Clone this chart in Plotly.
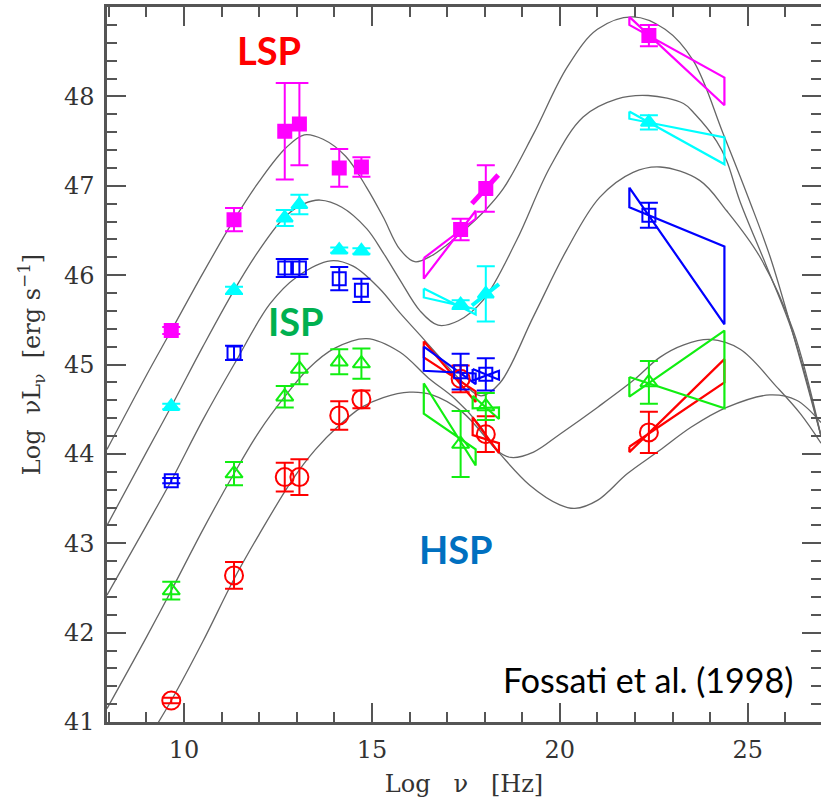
import plotly.graph_objects as go

# ---------------- data ----------------
log_nu = [9.66, 11.33, 12.68, 13.07, 14.13, 14.72, 17.36, 18.03, 22.37]

lsp_y = [45.38, 46.62, 47.61, 47.69, 47.20, 47.21, 46.51, 46.97, 48.68]
lsp_err = [0.04, 0.13, 0.54, 0.46, 0.21, 0.11, 0.12, 0.26, 0.12]
bin2_y = [44.53, 45.83, 46.64, 46.79, 46.28, 46.27, 45.67, 45.79, 47.71]
bin2_err = [0.03, 0.04, 0.09, 0.11, 0.03, 0.03, 0.05, 0.31, 0.08]
bin3_y = [43.70, 45.13, 46.08, 46.08, 45.96, 45.83, 44.92, 44.89, 46.67]
bin3_err = [0.03, 0.08, 0.10, 0.10, 0.13, 0.13, 0.20, 0.18, 0.14]
isp_y = [42.47, 43.78, 44.64, 44.95, 45.03, 45.01, 44.11, 44.53, 44.80]
isp_err = [0.10, 0.13, 0.12, 0.17, 0.14, 0.17, 0.37, 0.15, 0.24]
hsp_y = [41.24, 42.64, 43.74, 43.74, 44.43, 44.61, 44.84, 44.22, 44.24]
hsp_err = [0.03, 0.15, 0.16, 0.20, 0.16, 0.10, 0.15, 0.20, 0.23]

# bowties: x ends, left (top, bottom), right (top, bottom)
bow_x = [[16.38, 17.76], [17.68, 18.38], [21.85, 24.38]]
lsp_bow_left = [[46.19, 45.96], None, [48.89, 48.80]]
lsp_bow_right = [[46.72, 46.63], None, [48.21, 47.90]]
bin2_bow_left = [[45.85, 45.75], None, [47.83, 47.75]]
bin2_bow_right = [[45.62, 45.56], None, [47.54, 47.24]]
bin3_bow_left = [[45.20, 44.93], [44.95, 44.82], [46.98, 46.76]]
bin3_bow_right = [[44.90, 44.78], [44.93, 44.83], [46.32, 45.45]]
isp_bow_left = [[44.79, 44.45], [44.65, 44.51], [44.86, 44.64]]
isp_bow_right = [[44.05, 43.87], [44.52, 44.39], [45.38, 44.51]]
hsp_bow_left = [[45.26, 45.08], [44.41, 44.21], [44.08, 44.02]]
hsp_bow_right = [[44.70, 44.58], [44.12, 44.01], [45.06, 44.80]]
# narrow hard X-ray slopes
lsp_hx_x = [17.66, 18.36]
lsp_hx_y = [46.80, 47.12]
bin2_hx_x = [17.66, 18.38]
bin2_hx_y = [45.66, 45.90]

# model curves
c1_x = [7.95, 9.0, 9.66, 10.5, 11.33, 12.0, 12.7, 13.2, 13.7, 14.3, 14.86, 15.3, 15.74, 16.14, 16.6, 17.0, 17.5, 18.0, 18.5, 19.3, 20.2, 21.0, 21.95, 22.8, 23.55, 24.35, 25.05, 25.6, 26.2, 26.95]
c1_y = [44.05, 44.88, 45.38, 46.02, 46.62, 47.05, 47.42, 47.57, 47.52, 47.33, 46.98, 46.65, 46.29, 46.15, 46.22, 46.34, 46.52, 46.72, 46.97, 47.58, 48.33, 48.75, 48.89, 48.75, 48.40, 47.58, 46.83, 46.2, 45.35, 44.2]
c2_x = [7.95, 9.0, 9.66, 10.5, 11.33, 12.0, 12.68, 13.2, 13.62, 14.2, 14.86, 15.3, 15.74, 16.28, 16.76, 17.3, 17.96, 18.85, 19.74, 20.62, 21.51, 22.35, 23.29, 23.6, 24.17, 24.44, 24.79, 25.5, 26.2, 26.95]
c2_y = [43.2, 44.02, 44.53, 45.2, 45.83, 46.28, 46.65, 46.80, 46.84, 46.76, 46.52, 46.25, 45.95, 45.60, 45.44, 45.49, 45.72, 46.39, 47.21, 47.77, 47.97, 48.01, 47.92, 47.80, 47.50, 47.28, 46.83, 46.1, 45.35, 44.2]
c3_x = [7.95, 9.0, 9.66, 10.5, 11.33, 12.29, 13.0, 13.9, 14.5, 15.2, 15.74, 16.3, 16.72, 17.3, 17.9, 18.4, 19.29, 20.18, 21.06, 21.95, 22.67, 23.72, 24.44, 25.33, 26.21, 26.95]
c3_y = [42.42, 43.2, 43.70, 44.38, 45.0, 45.68, 45.98, 46.16, 46.10, 45.85, 45.58, 45.32, 45.12, 44.85, 44.65, 44.79, 45.53, 46.28, 46.87, 47.15, 47.21, 47.06, 46.72, 46.20, 45.38, 44.2]
c4_x = [7.95, 9.0, 9.66, 10.5, 11.33, 12.0, 12.68, 13.3, 14.0, 14.86, 15.74, 16.5, 17.2, 17.87, 18.3, 18.7, 19.3, 20.0, 21.0, 21.95, 22.66, 23.3, 24.0, 24.8, 25.77, 26.4, 26.95]
c4_y = [41.15, 41.95, 42.47, 43.15, 43.78, 44.25, 44.64, 44.95, 45.18, 45.29, 45.14, 44.85, 44.62, 44.32, 44.05, 43.96, 44.02, 44.22, 44.52, 44.82, 45.08, 45.22, 45.28, 45.17, 44.75, 44.45, 44.12]
c5_x = [9.25, 9.66, 10.5, 11.33, 12.0, 12.9, 13.5, 14.13, 14.72, 15.3, 16.0, 16.6, 17.4, 18.3, 19.2, 20.0, 20.4, 21.0, 21.8, 22.66, 23.5, 24.44, 25.59, 26.3, 26.95]
c5_y = [40.95, 41.24, 41.9, 42.6, 43.1, 43.72, 44.05, 44.32, 44.52, 44.63, 44.69, 44.66, 44.47, 44.05, 43.65, 43.43, 43.39, 43.48, 43.78, 44.04, 44.3, 44.52, 44.66, 44.6, 44.35]

x_major = [10, 15, 20, 25]
y_major = [41, 42, 43, 44, 45, 46, 47, 48]

MAG, CYA, BLU, GRN, RED = "#ff00ff", "#00ffff", "#0000ff", "#11ee11", "#ff0000"

fig = go.Figure()

for cx, cy in [(c1_x, c1_y), (c2_x, c2_y), (c3_x, c3_y), (c4_x, c4_y), (c5_x, c5_y)]:
    fig.add_trace(go.Scatter(x=cx, y=cy, mode="lines",
                             line=dict(color="#666666", width=1.3, shape="spline", smoothing=1.0),
                             hoverinfo="skip"))


def add_bowties(left, right, color):
    for xs, l, r in zip(bow_x, left, right):
        if l is None:
            continue
        px = [xs[0], xs[1], xs[1], xs[0], xs[0]]
        py = [l[0], r[1], r[0], l[1], l[0]]
        fig.add_trace(go.Scatter(x=px, y=py, mode="lines",
                                 line=dict(color=color, width=2.2), hoverinfo="skip"))


add_bowties(lsp_bow_left, lsp_bow_right, MAG)
add_bowties(bin2_bow_left, bin2_bow_right, CYA)
add_bowties(hsp_bow_left, hsp_bow_right, RED)
add_bowties(bin3_bow_left, bin3_bow_right, BLU)
add_bowties(isp_bow_left, isp_bow_right, GRN)
fig.add_trace(go.Scatter(x=lsp_hx_x, y=lsp_hx_y, mode="lines", line=dict(color=MAG, width=5)))
fig.add_trace(go.Scatter(x=bin2_hx_x, y=bin2_hx_y, mode="lines", line=dict(color=CYA, width=4)))


def add_points(y, err, color, symbol, size):
    fig.add_trace(go.Scatter(
        x=log_nu, y=y, mode="markers",
        marker=dict(symbol=symbol, size=size, color=color,
                    line=dict(color=color, width=2)),
        error_y=dict(type="data", array=err, color=color, thickness=2, width=9)))


add_points(hsp_y, hsp_err, RED, "circle-open", 18)
add_points(isp_y, isp_err, GRN, "triangle-up-open", 15)
add_points(bin3_y, bin3_err, BLU, "square-open", 13)
add_points(bin2_y, bin2_err, CYA, "triangle-up", 14)
add_points(lsp_y, lsp_err, MAG, "square", 13)

axis_col = "#555555"
tickfont = dict(family="DejaVu Serif", size=24, color="#333333")
titlefont = dict(family="DejaVu Serif", size=24, color="#333333")

fig.update_xaxes(range=[7.95, 26.95], tickvals=x_major, ticks="inside", ticklen=19,
                 tickwidth=2, tickcolor=axis_col, showline=True, linecolor=axis_col,
                 linewidth=2.5, mirror="ticks", showgrid=False, zeroline=False,
                 minor=dict(dtick=1, tick0=0, ticks="inside", ticklen=10, tickwidth=2,
                            tickcolor=axis_col, showgrid=False),
                 tickfont=tickfont, ticklabelstandoff=4,
                 title=dict(text="Log\u00a0\u00a0\u00a0\u03bd\u00a0\u00a0\u00a0[Hz]", font=titlefont, standoff=13),
                 automargin=False)
fig.update_yaxes(range=[41, 49], tickvals=y_major, ticks="inside", ticklen=19,
                 tickwidth=2, tickcolor=axis_col, showline=True, linecolor=axis_col,
                 linewidth=2.5, mirror="ticks", showgrid=False, zeroline=False,
                 minor=dict(dtick=0.2, tick0=41, ticks="inside", ticklen=10, tickwidth=2,
                            tickcolor=axis_col, showgrid=False),
                 tickfont=tickfont, ticklabelstandoff=5,
                 title=dict(text="Log\u00a0\u00a0\u03bdL<sub>\u03bd</sub>\u00a0\u00a0[erg\u00a0s<sup>\u22121</sup>]",
                            font=titlefont, standoff=17),
                 automargin=False)

lab = dict(family="Lato", size=38)
fig.add_annotation(x=12.26, y=48.52, text="<b>LSP</b>", showarrow=False,
                   font=dict(color="#ff0000", **lab))
fig.add_annotation(x=12.97, y=45.49, text="<b>ISP</b>", showarrow=False,
                   font=dict(color="#00b050", **lab))
fig.add_annotation(x=17.23, y=42.94, text="<b>HSP</b>", showarrow=False,
                   font=dict(color="#0070c0", **lab))
fig.add_annotation(x=26.26, y=41.47, text="Fossati et al. (1998)", showarrow=False,
                   xanchor="right", font=dict(family="Lato", size=34, color="#000000"))

fig.update_layout(width=821, height=801, margin=dict(l=107, r=0, t=7, b=79),
                  plot_bgcolor="white", paper_bgcolor="white", showlegend=False)

fig.write_html("out.html", config={"displayModeBar": False},
               post_script="document.body.style.margin='0';document.body.style.overflow='hidden';")
